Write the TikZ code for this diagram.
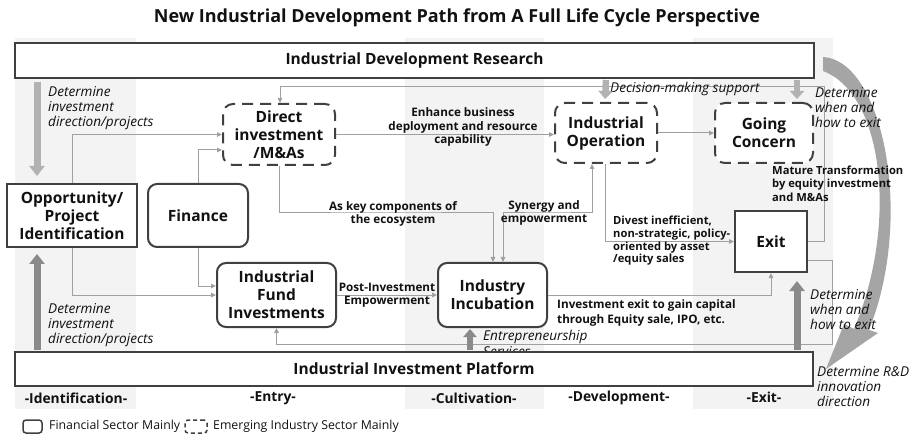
\documentclass[tikz,border=0pt]{standalone}
\usepackage{fontspec}
\setmainfont{Open Sans}
\usetikzlibrary{arrows.meta,calc}

\definecolor{bandgray}{HTML}{F3F3F3}
\definecolor{boxline}{HTML}{404040}
\definecolor{linkgray}{HTML}{A0A0A0}
\definecolor{lightblock}{HTML}{B2B2B2}
\definecolor{darkblock}{HTML}{8A8A8A}
\definecolor{curvegray}{HTML}{A5A5A5}
\definecolor{textdark}{HTML}{111111}

\tikzset{
  nodetext/.style={font={\fontsize{15.5}{18}\selectfont\bfseries}, text=textdark, align=center, inner sep=0pt},
  finbox/.style={nodetext, draw=boxline, fill=white, line width=2pt, rounded corners=9pt},
  emergbox/.style={nodetext, draw=boxline, fill=white, line width=2pt, rounded corners=10pt, dash pattern=on 11pt off 7pt},
  sharpbox/.style={nodetext, draw=boxline, fill=white, line width=2pt},
  barbox/.style={font={\fontsize{15.5}{18}\selectfont\bfseries}, text=textdark, draw=boxline, fill=white, line width=2pt, inner sep=0pt},
  link/.style={draw=linkgray, line width=1pt, -{Triangle[length=5pt,width=4.5pt]}},
  twolink/.style={draw=linkgray, line width=1pt, {Triangle[length=5pt,width=4.5pt]}-{Triangle[length=5pt,width=4.5pt]}},
  edgelabel/.style={font={\fontsize{11.7}{13.5}\selectfont\bfseries}, text=textdark, inner sep=0pt},
  notelabel/.style={font={\fontsize{13.6}{15}\selectfont\itshape}, text=textdark, inner sep=0pt, align=left, anchor=west},
  stagelabel/.style={font={\fontsize{13.8}{15}\selectfont\bfseries}, text=textdark, inner sep=0pt},
  lightarrow/.style={draw=lightblock, line width=7pt, -{Triangle[length=10pt,width=15pt]}},
  darkarrow/.style={draw=darkblock, line width=7pt, -{Triangle[length=10pt,width=15pt]}},
  legendtext/.style={font={\fontsize{12.3}{14}\selectfont}, text=textdark, inner sep=0pt, anchor=west},
}

\begin{document}
\begin{tikzpicture}[x=1pt,y=-1pt]
\useasboundingbox (0,0) rectangle (915,438);

% stage bands
\fill[bandgray] (15,38) rectangle (136,409);
\fill[bandgray] (405,38) rectangle (544,409);
\fill[bandgray] (693,38) rectangle (833,409);

% curved arrow from research to platform
\fill[curvegray] (823,57) .. controls (882,60) and (915,215) .. (869,330)
  -- (878,333) -- (826,369) -- (844,324) -- (854,329)
  .. controls (898,225) and (884,94) .. (823,71) -- cycle;

% title
\node[font={\fontsize{18}{21}\selectfont\bfseries}, text=textdark, inner sep=0pt] (title) at (457,18)
  {New Industrial Development Path from A Full Life Cycle Perspective};

% research bar
\node[barbox, minimum width=799pt, minimum height=35pt] (research) at (414.5,60.5) {Industrial Development Research};

% main nodes
\node[emergbox, minimum width=112pt, minimum height=61pt] (di) at (279,134.5) {Direct\\investment\\/M\&As};
\node[emergbox, minimum width=102pt, minimum height=60pt] (io) at (606,133) {Industrial\\Operation};
\node[emergbox, minimum width=98pt, minimum height=60pt] (gc) at (764,133) {Going\\Concern};
\node[sharpbox, minimum width=130pt, minimum height=63pt] (opp) at (72,215.5) {Opportunity/\\Project\\Identification};
\node[finbox, minimum width=100pt, minimum height=63pt] (fin) at (198,215.5) {Finance};
\node[finbox, minimum width=119pt, minimum height=64pt] (fund) at (276.5,295) {Industrial\\Fund\\Investments};
\node[finbox, minimum width=109pt, minimum height=64pt] (inc) at (492.5,295) {Industry\\Incubation};
\node[sharpbox, minimum width=72pt, minimum height=61pt] (exit) at (771,241.5) {Exit};

% routing points
\coordinate (rtop) at (824,87);
\coordinate (rbot) at (832,344);
\coordinate (ecomid) at (386,213);
\coordinate (synmid) at (548,213);

% connectors
\draw[link] (opp.north) |- (di.west);
\draw[link] (fin.north) |- ([yshift=-15.5pt]di.west);
\draw[link] (opp.south) |- (fund.west);
\draw[link] (fin.south) |- ([yshift=9pt]fund.west);
\draw[link] (di.east) -- (di.east -| io.west);
\draw[link] (io.east) -- (gc.west);
\draw[link] (fund.east) -- (inc.west);
\draw[link] (di.south) |- (ecomid) -| ([xshift=0.5pt]inc.north);
\draw[twolink] ([xshift=10.5pt]inc.north) |- (synmid) -| ([xshift=-14pt]io.south);
\draw[link] ([xshift=-1pt]io.south) |- (exit.west);
\draw[link] (inc.east) -| (exit.south);
\draw[link] (exit.east) -| (rtop) -| ([xshift=1pt]di.north);
\draw[link] ([yshift=-19.5pt]exit.east) -| (rbot) -| (fund.south);

% connector labels
\node[edgelabel, align=center] (lblenh) at (463,127) {Enhance business\\deployment and resource\\capability};
\node[edgelabel, align=center] (lbleco) at (393,214) {As key components of\\the ecosystem};
\node[edgelabel, align=center] (lblsyn) at (544,213) {Synergy and\\empowerment};
\node[edgelabel, align=center] (lblpost) at (387,295) {Post-Investment\\Empowerment};
\node[edgelabel, align=left, anchor=west, font={\fontsize{11.2}{12.7}\selectfont\bfseries}] (lbldiv) at (613,241) {Divest inefficient,\\non-strategic, policy-\\oriented by asset\\/equity sales};
\node[edgelabel, align=left, anchor=west, font={\fontsize{11.7}{15}\selectfont\bfseries}] (lblexit) at (557,312.5) {Investment exit to gain capital\\through Equity sale, IPO, etc.};
\node[edgelabel, align=left, anchor=west, font={\fontsize{11.2}{13.5}\selectfont\bfseries}] (lblmat) at (772,183.5) {Mature Transformation\\by equity investment\\and M\&As};

% notes
\node[notelabel] (n1) at (48,108) {Determine\\investment\\direction/projects};
\node[notelabel] (n2) at (48,325) {Determine\\investment\\direction/projects};
\node[notelabel] (n3) at (610,89) {Decision-making support};
\node[notelabel] (n4) at (815,108) {Determine\\when and\\how to exit};
\node[notelabel] (n5) at (810,310) {Determine\\when and\\how to exit};
\node[notelabel, font={\fontsize{13.6}{16}\selectfont\itshape}] (n6) at (483,343) {Entrepreneurship\\Services};
\node[notelabel] (n7) at (817,387) {Determine R\&D\\innovation\\direction};

% platform bar
\node[barbox, minimum width=798pt, minimum height=34pt] (platform) at (414,369) {Industrial Investment Platform};

% block arrows
\coordinate (colL) at (37,0);
\draw[lightarrow, shorten <=3pt, shorten >=7pt] (research.south -| colL) -- (opp.north -| colL);
\draw[darkarrow, shorten <=1pt, shorten >=6pt] (platform.north -| colL) -- (opp.south -| colL);
\draw[lightarrow, line width=6.5pt, -{Triangle[length=8pt,width=14pt]}, shorten <=1pt, shorten >=3pt] (research.south -| io.north) -- ([xshift=-1pt]io.north);
\draw[lightarrow, line width=6.5pt, -{Triangle[length=8pt,width=14pt]}, shorten <=1pt, shorten >=3pt] ([xshift=33pt]research.south -| gc.north) -- ([xshift=33pt]gc.north);
\draw[darkarrow, shorten <=1pt, shorten >=8pt] ([xshift=26pt]platform.north -| exit.south) -- ([xshift=26pt]exit.south);
\draw[darkarrow, line width=6pt, -{Triangle[length=8pt,width=13pt]}, shorten <=1pt, shorten >=1pt] ([xshift=-22.5pt]platform.north -| inc.south) -- ([xshift=-22.5pt]inc.south);

% stage labels
\node[stagelabel] (s1) at (76,398) {-Identification-};
\node[stagelabel] (s2) at (273,398) {-Entry-};
\node[stagelabel] (s3) at (474,398) {-Cultivation-};
\node[stagelabel] (s4) at (619,398) {-Development-};
\node[stagelabel] (s5) at (764,397) {-Exit-};

% legend
\node[draw=boxline, line width=1.5pt, rounded corners=3pt, minimum width=19pt, minimum height=13pt, inner sep=0pt] (legfin) at (32.5,426.5) {};
\node[legendtext] (legfintext) at (49,426.5) {Financial Sector Mainly};
\node[draw=boxline, line width=1.5pt, rounded corners=3pt, dash pattern=on 4pt off 3pt, minimum width=22pt, minimum height=13pt, inner sep=0pt] (legem) at (196,426.5) {};
\node[legendtext] (legemtext) at (213,426.5) {Emerging Industry Sector Mainly};
\end{tikzpicture}
\end{document}
